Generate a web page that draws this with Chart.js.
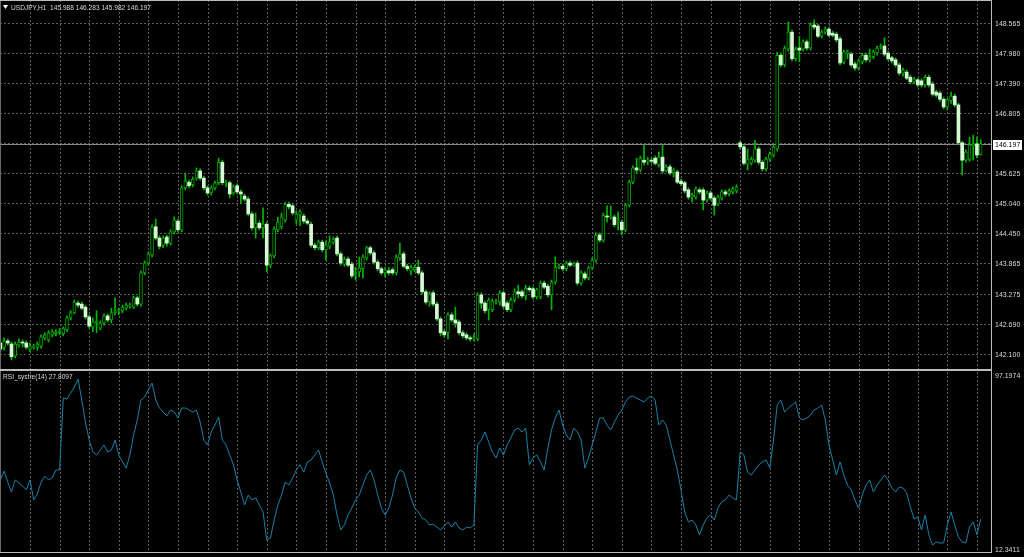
<!DOCTYPE html>
<html>
<head>
<meta charset="utf-8">
<script src="https://cdn.jsdelivr.net/npm/chart.js@4.4.1/dist/chart.umd.min.js"></script>
<style>
  html, body { margin: 0; padding: 0; background: #000; }
  body { width: 1024px; height: 557px; position: relative; overflow: hidden; }
  .pane { position: absolute; left: 0; width: 1024px; }
  #pricePane { top: 0; height: 370px; }
  #rsiPane { top: 370px; height: 184px; }
</style>
</head>
<body>
<div class="pane" id="pricePane"><canvas id="priceChart"></canvas></div>
<div class="pane" id="rsiPane"><canvas id="rsiChart"></canvas></div>
<script>
// USDJPY H1 candles (oldest first)
const symbol = 'USDJPY,H1';

const open = [
  142.31,142.23,142.35,142.29,142.06,142.27,142.33,142.31,142.19,142.23,
  142.23,142.25,142.41,142.37,142.47,142.49,142.51,142.49,142.57,142.80,
  142.90,143.09,143.07,143.01,142.82,142.62,142.70,142.60,142.70,142.84,
  142.76,142.90,142.94,142.94,142.99,143.03,143.01,143.19,143.07,143.68,
  143.87,144.03,144.58,144.36,144.22,144.38,144.26,144.48,144.69,144.52,
  145.34,145.45,145.40,145.53,145.67,145.53,145.34,145.24,145.34,145.44,
  145.84,145.44,145.44,145.24,145.38,145.26,145.18,145.12,144.83,144.56,
  144.65,144.56,144.63,143.83,144.01,144.52,144.58,144.71,145.02,144.99,
  144.71,144.81,144.79,144.69,144.63,144.22,144.17,144.28,144.13,144.20,
  144.28,144.36,144.05,143.85,143.95,143.85,143.64,143.70,143.76,143.97,
  144.17,144.07,143.89,143.76,143.68,143.72,143.74,143.68,143.97,144.05,
  143.81,143.72,143.74,143.79,143.68,143.31,143.11,143.29,143.07,142.78,
  142.53,142.51,142.86,142.76,142.72,142.51,142.47,142.41,142.39,142.39,
  143.25,143.09,142.96,142.96,143.11,143.11,143.29,143.09,142.96,143.15,
  143.31,143.31,143.23,143.38,143.37,143.21,143.21,143.48,143.42,143.25,
  143.50,143.79,143.81,143.76,143.87,143.83,143.87,143.48,143.66,143.58,
  143.78,143.93,144.42,144.32,144.79,144.77,144.77,144.67,144.67,144.52,
  145.00,145.45,145.73,145.69,145.88,145.86,145.88,145.92,145.79,145.94,
  145.67,145.75,145.63,145.65,145.47,145.44,145.30,145.16,145.16,145.30,
  145.30,145.10,145.24,145.14,145.02,145.14,145.26,145.22,145.26,145.28,
  146.22,146.14,145.80,145.82,145.88,146.10,145.84,145.71,145.90,145.98,
  146.10,147.93,147.74,148.05,148.38,147.86,148.07,148.05,148.19,148.07,
  148.52,148.50,148.30,148.38,148.44,148.36,148.34,148.25,147.80,147.97,
  147.95,147.76,147.68,147.80,147.93,147.84,147.90,147.97,148.09,148.11,
  147.97,147.88,147.84,147.74,147.58,147.60,147.50,147.41,147.45,147.43,
  147.35,147.50,147.37,147.21,147.19,147.07,146.92,147.04,147.13,146.96,
  146.22,145.88,145.90,146.16,146.20,145.988
];

const high = [
  142.39,142.41,142.39,142.33,142.33,142.39,142.37,142.35,142.31,142.29,
  142.33,142.47,142.51,142.55,142.57,142.57,142.59,142.62,142.84,142.94,
  143.15,143.13,143.11,143.05,142.86,142.80,142.94,142.74,142.88,142.88,
  142.99,143.19,142.99,143.05,143.09,143.09,143.23,143.23,143.72,143.91,
  144.09,144.62,144.73,144.40,144.40,144.42,144.52,144.77,144.73,145.38,
  145.63,145.49,145.55,145.73,145.71,145.57,145.38,145.38,145.47,145.92,
  145.88,145.49,145.47,145.40,145.42,145.30,145.22,145.16,144.87,144.85,
  144.69,144.95,144.67,144.05,144.58,144.77,144.85,145.06,145.06,145.02,
  144.89,144.91,144.83,144.73,144.67,144.26,144.32,144.32,144.30,144.40,
  144.38,144.40,144.09,143.99,143.99,143.89,143.79,143.99,144.03,144.20,
  144.20,144.11,143.93,143.79,143.79,143.78,143.78,144.03,144.26,144.09,
  143.85,143.83,143.83,143.93,143.72,143.35,143.31,143.33,143.11,142.82,
  142.57,142.90,142.90,143.01,142.76,142.55,142.51,142.45,142.49,143.29,
  143.29,143.13,143.19,143.17,143.17,143.33,143.33,143.13,143.19,143.37,
  143.44,143.35,143.44,143.42,143.40,143.38,143.52,143.52,143.46,143.54,
  143.99,143.85,143.85,143.91,143.91,143.89,143.91,143.72,143.70,143.81,
  143.97,144.46,144.46,144.85,144.99,144.99,144.81,144.87,144.71,145.04,
  145.49,145.77,145.92,145.96,146.18,145.94,145.92,145.96,146.04,146.18,
  145.79,145.79,145.73,145.69,145.51,145.47,145.34,145.24,145.36,145.34,
  145.34,145.28,145.28,145.18,145.20,145.30,145.30,145.32,145.36,145.40,
  146.25,146.18,146.10,145.94,146.27,146.14,145.88,145.94,146.04,146.18,
  147.99,147.97,148.11,148.58,148.42,148.09,148.30,148.23,148.23,148.56,
  148.62,148.54,148.42,148.48,148.48,148.40,148.38,148.29,148.03,148.03,
  147.99,147.80,147.86,147.97,147.97,148.05,148.03,148.11,148.15,148.27,
  148.01,147.91,147.88,147.78,147.68,147.64,147.54,147.50,147.48,147.47,
  147.54,147.54,147.41,147.25,147.23,147.11,147.09,147.21,147.17,146.99,
  146.25,146.08,146.33,146.37,146.33,146.283
];

const low = [
  142.14,142.17,142.27,141.98,142.02,142.23,142.23,142.19,142.14,142.19,
  142.17,142.21,142.37,142.33,142.43,142.45,142.47,142.45,142.53,142.76,
  142.88,143.01,142.96,142.78,142.60,142.53,142.51,142.57,142.66,142.72,
  142.70,142.86,142.86,142.90,142.96,142.99,142.98,143.03,143.03,143.64,
  143.83,143.99,144.32,144.15,144.17,144.20,144.22,144.44,144.48,144.48,
  145.30,145.34,145.36,145.49,145.49,145.30,145.20,145.20,145.30,145.40,
  145.40,145.36,145.14,145.20,145.22,145.04,145.08,144.79,144.52,144.36,
  144.52,144.36,143.70,143.78,143.97,144.48,144.54,144.67,144.93,144.81,
  144.63,144.60,144.65,144.62,144.18,144.13,144.13,144.09,143.93,144.15,
  144.24,144.01,143.83,143.81,143.80,143.58,143.54,143.60,143.58,143.93,
  144.03,143.85,143.72,143.64,143.60,143.64,143.64,143.64,143.93,143.78,
  143.72,143.64,143.70,143.64,143.27,143.07,143.03,143.03,142.74,142.45,
  142.43,142.39,142.72,142.62,142.47,142.41,142.37,142.35,142.35,142.35,
  142.99,142.90,142.76,142.92,143.07,143.05,142.99,142.92,142.92,143.11,
  143.19,143.19,143.15,143.31,143.17,143.17,143.17,143.37,143.21,142.96,
  143.46,143.76,143.72,143.72,143.80,143.81,143.44,143.44,143.54,143.54,
  143.74,143.89,144.28,144.28,144.67,144.73,144.58,144.52,144.42,144.48,
  144.97,145.42,145.63,145.65,145.79,145.79,145.82,145.79,145.75,145.63,
  145.65,145.59,145.55,145.42,145.38,145.24,145.12,145.06,145.12,145.22,
  144.91,145.06,145.10,144.81,144.99,145.10,145.18,145.18,145.22,145.24,
  146.10,145.79,145.69,145.79,145.84,145.80,145.67,145.67,145.86,145.94,
  146.06,147.70,147.70,148.01,147.82,147.82,147.80,148.01,148.03,148.03,
  148.44,148.27,148.27,148.34,148.29,148.29,148.19,147.74,147.76,147.86,
  147.70,147.64,147.64,147.76,147.80,147.80,147.86,147.93,148.05,147.91,
  147.82,147.78,147.70,147.54,147.52,147.45,147.37,147.37,147.31,147.31,
  147.31,147.31,147.13,147.11,147.03,146.88,146.86,146.99,146.92,146.18,
  145.59,145.84,145.86,145.88,145.93,145.982
];

const close = [
  142.19,142.35,142.31,142.04,142.29,142.33,142.31,142.23,142.25,142.25,
  142.29,142.43,142.47,142.51,142.53,142.53,142.55,142.59,142.80,142.90,
  143.11,143.05,142.99,142.82,142.64,142.72,142.74,142.70,142.84,142.76,
  142.90,142.94,142.96,143.01,143.05,143.05,143.19,143.07,143.68,143.87,
  144.05,144.58,144.36,144.20,144.36,144.26,144.48,144.71,144.52,145.34,
  145.47,145.38,145.51,145.67,145.53,145.34,145.24,145.34,145.44,145.84,
  145.44,145.45,145.22,145.36,145.26,145.22,145.12,144.83,144.56,144.65,
  144.56,144.63,143.83,144.01,144.54,144.67,144.77,145.02,144.97,144.85,
  144.83,144.87,144.69,144.65,144.22,144.17,144.28,144.13,144.22,144.28,
  144.34,144.05,143.87,143.95,143.83,143.62,143.68,143.78,143.99,144.17,
  144.07,143.89,143.76,143.68,143.74,143.68,143.68,143.99,144.05,143.81,
  143.76,143.79,143.79,143.68,143.31,143.11,143.27,143.07,142.78,142.51,
  142.47,142.86,142.76,142.70,142.51,142.45,142.41,142.39,142.41,143.25,
  143.09,142.94,143.15,143.13,143.13,143.29,143.03,142.96,143.15,143.31,
  143.27,143.23,143.38,143.35,143.21,143.35,143.48,143.40,143.25,143.50,
  143.79,143.81,143.76,143.87,143.83,143.85,143.48,143.68,143.58,143.78,
  143.93,144.42,144.32,144.81,144.77,144.79,144.62,144.69,144.52,145.00,
  145.45,145.73,145.69,145.92,145.84,145.88,145.86,145.82,145.94,145.67,
  145.75,145.63,145.69,145.45,145.42,145.28,145.16,145.20,145.32,145.26,
  145.10,145.24,145.14,145.00,145.16,145.26,145.22,145.28,145.32,145.36,
  146.14,145.82,145.90,145.90,146.10,145.84,145.71,145.90,146.00,146.14,
  147.93,147.74,148.07,148.38,147.86,148.05,148.03,148.19,148.07,148.52,
  148.48,148.30,148.38,148.44,148.32,148.32,148.23,147.78,147.99,147.99,
  147.74,147.68,147.82,147.93,147.84,147.90,147.99,148.07,148.11,147.95,
  147.86,147.82,147.74,147.58,147.64,147.48,147.41,147.47,147.35,147.35,
  147.50,147.35,147.17,147.15,147.07,146.92,147.06,147.13,146.96,146.22,
  145.88,146.04,146.18,146.20,145.98,146.197
];

// RSI_systre(14), one value per candle
const rsiName = 'RSI_systre(14)';
const rsi = [
  46.3,50.5,45.3,40.6,46.3,44.9,43.5,41.6,46.3,36.9,
  39.7,45.3,48.1,46.3,47.3,51.0,51.0,85.0,84.5,87.3,
  90.1,93.9,84.0,73.6,65.1,59.5,58.1,60.4,62.8,59.5,
  60.4,65.1,58.1,54.8,51.9,58.1,67.5,74.6,84.0,85.4,
  88.7,92.0,84.0,80.2,78.3,76.5,79.3,78.3,75.5,80.2,
  80.2,79.3,78.3,79.3,73.6,65.1,62.8,68.9,72.2,76.0,
  65.1,62.8,58.1,53.4,46.3,40.6,34.5,39.2,36.9,37.8,
  34.5,31.2,18.0,18.9,27.4,34.5,39.2,45.3,43.9,47.3,
  51.0,53.4,50.0,54.8,55.7,58.1,60.4,54.8,49.6,44.9,
  39.2,29.8,22.7,25.1,29.8,33.1,36.9,39.2,43.9,48.6,
  51.0,46.3,39.2,33.1,29.8,33.1,39.2,47.3,51.0,50.0,
  43.9,37.8,33.1,31.2,28.4,27.4,25.1,25.5,24.1,22.7,
  24.6,26.5,24.1,26.5,23.7,22.7,24.1,23.7,25.1,62.8,
  65.1,68.9,64.2,59.5,56.7,61.4,58.1,62.8,66.1,69.9,
  70.8,68.9,70.8,53.4,56.7,58.1,54.8,51.0,61.4,69.9,
  75.5,79.3,72.2,67.5,65.1,70.8,68.9,65.1,51.9,56.7,
  62.8,68.9,75.5,75.5,72.2,69.9,73.6,76.9,79.3,83.1,
  85.4,85.9,84.9,84.0,83.1,84.9,85.9,84.0,72.2,74.6,
  72.2,65.1,58.1,51.0,41.6,31.2,26.5,27.4,25.1,20.4,
  25.1,28.4,29.8,27.4,33.1,36.0,36.9,39.2,37.8,36.9,
  59.5,58.1,50.0,48.6,51.0,53.4,54.8,55.7,52.0,65.1,
  81.6,84.0,78.3,80.2,81.6,83.1,75.5,74.6,75.5,76.9,
  79.3,80.2,81.6,74.6,62.8,55.7,48.6,54.8,48.6,43.9,
  41.6,36.9,33.1,39.2,43.9,46.3,40.6,43.9,46.3,48.6,
  46.3,42.5,40.6,43.0,42.5,40.2,33.6,27.9,28.8,22.7,
  29.8,20.4,15.6,17.1,16.6,16.6,25.1,31.2,25.1,19.4,
  17.1,16.6,24.1,26.5,20.4,27.8097
];

// axis labels shown on the right
const priceTicks = [148.565, 147.980, 147.390, 146.805, 146.215, 145.625, 145.040, 144.450, 143.865, 143.275, 142.690, 142.100];
const priceRange = [141.783, 149.008];
const rsiRange = [12.3411, 97.1974];

const bars = close.map((_, i) => i);

const FONT = '7px "Liberation Sans", Arial, sans-serif';
const HEAD_FONT = '6.6px "Liberation Sans", Arial, sans-serif';
const TEXT = '#d8d8d8';
const GRID = '#5e5e5e';
const FRAME = '#bcbcbc';
const WICK = '#00b800';
const BULL_EDGE = '#00a000';
const BEAR_FILL = '#d4fbd4';

function drawVGrid(chart) {
  const { ctx, chartArea: a, scales: { x } } = chart;
  ctx.save();
  ctx.strokeStyle = GRID;
  ctx.lineWidth = 1;
  ctx.setLineDash([2, 2]);
  for (let i = 8; i < bars.length; i += 8) {
    const px = Math.round(x.getPixelForValue(i)) + 0.5;
    ctx.beginPath();
    ctx.moveTo(px, a.top);
    ctx.lineTo(px, a.bottom);
    ctx.stroke();
  }
  ctx.restore();
}

function drawFrame(ctx, a, h) {
  ctx.fillStyle = FRAME;
  ctx.fillRect(Math.round(a.right), 0, 1, h);
  ctx.fillStyle = '#6a6a6a';
  ctx.fillRect(0, 0, 1, h);
}

const pricePlugin = {
  id: 'priceDecor',
  beforeDatasetsDraw(chart) {
    const { ctx, chartArea: a, scales: { y } } = chart;
    drawVGrid(chart);
    ctx.save();
    ctx.strokeStyle = GRID;
    ctx.setLineDash([2, 2]);
    priceTicks.forEach(t => {
      const py = Math.round(y.getPixelForValue(t)) + 0.5;
      ctx.beginPath();
      ctx.moveTo(a.left, py);
      ctx.lineTo(a.right, py);
      ctx.stroke();
    });
    // bid line
    ctx.setLineDash([]);
    ctx.strokeStyle = '#8a8a8a';
    const by = Math.round(y.getPixelForValue(close[close.length - 1])) + 0.5;
    ctx.beginPath();
    ctx.moveTo(a.left, by);
    ctx.lineTo(a.right, by);
    ctx.stroke();
    ctx.restore();
  },
  afterDraw(chart) {
    const { ctx, chartArea: a, scales: { y } } = chart;
    ctx.save();
    drawFrame(ctx, a, chart.height);
    ctx.fillStyle = FRAME;
    ctx.fillRect(0, 0, Math.round(a.right), 1);
    ctx.fillRect(0, chart.height - 1, Math.round(a.right) + 1, 1);

    ctx.font = FONT;
    ctx.textBaseline = 'middle';
    ctx.textAlign = 'left';
    ctx.fillStyle = TEXT;
    priceTicks.forEach(t => {
      ctx.fillText(t.toFixed(3), a.right + 4, Math.round(y.getPixelForValue(t)) + 1);
    });

    // last price box
    const last = close[close.length - 1];
    const by = Math.round(y.getPixelForValue(last));
    ctx.fillStyle = '#ffffff';
    ctx.fillRect(a.right + 2, by - 4, 29, 10);
    ctx.fillStyle = '#000000';
    ctx.fillText(last.toFixed(3), a.right + 4, by + 1);

    // header
    ctx.fillStyle = '#ffffff';
    ctx.beginPath();
    ctx.moveTo(3, 5);
    ctx.lineTo(8, 5);
    ctx.lineTo(5.5, 9);
    ctx.closePath();
    ctx.fill();
    const n = close.length - 1;
    ctx.font = HEAD_FONT;
    ctx.fillStyle = TEXT;
    ctx.fillText(symbol + '  ' + [open[n], high[n], low[n], close[n]].map(v => v.toFixed(3)).join(' '), 11, 8);
    ctx.restore();
  }
};

const rsiPlugin = {
  id: 'rsiDecor',
  beforeDatasetsDraw(chart) {
    drawVGrid(chart);
  },
  afterDraw(chart) {
    const { ctx, chartArea: a } = chart;
    ctx.save();
    drawFrame(ctx, a, chart.height - 1);
    ctx.fillStyle = FRAME;
    ctx.fillRect(0, 0, Math.round(a.right) + 1, 1);
    ctx.fillRect(0, Math.round(a.bottom), Math.round(a.right) + 1, 1);
    ctx.font = FONT;
    ctx.textBaseline = 'middle';
    ctx.textAlign = 'left';
    ctx.fillStyle = TEXT;
    ctx.fillText(rsiRange[1].toFixed(4), a.right + 4, 6);
    ctx.fillText(rsiRange[0].toFixed(4), a.right + 4, a.bottom - 2);
    ctx.font = HEAD_FONT;
    ctx.fillText(rsiName + ' ' + rsi[rsi.length - 1].toFixed(4), 3, 7);
    ctx.restore();
  }
};

const xScale = { type: 'linear', display: false, offset: false, min: -0.108, max: 267.8 };

new Chart(document.getElementById('priceChart'), {
  type: 'bar',
  data: {
    datasets: [
      {
        label: 'body',
        data: bars.map(i => ({ x: i, y: [open[i], close[i]] })),
        backgroundColor: bars.map(i => close[i] >= open[i] ? '#000000' : BEAR_FILL),
        borderColor: bars.map(i => close[i] >= open[i] ? BULL_EDGE : BEAR_FILL),
        borderWidth: bars.map(i => close[i] >= open[i] ? 1 : 0),
        borderSkipped: false,
        barThickness: 3,
        stack: 'candle',
        order: 0
      },
      {
        label: 'wick',
        data: bars.map(i => ({ x: i, y: [low[i], high[i]] })),
        backgroundColor: WICK,
        borderWidth: 0,
        barThickness: 1,
        stack: 'candle',
        order: 1
      }
    ]
  },
  options: {
    responsive: true,
    maintainAspectRatio: false,
    animation: false,
    layout: { padding: { top: 0, right: 33, bottom: 0, left: 0 } },
    plugins: { legend: { display: false }, tooltip: { enabled: false } },
    scales: {
      x: xScale,
      y: { display: false, stacked: false, min: priceRange[0], max: priceRange[1] }
    }
  },
  plugins: [pricePlugin]
});

new Chart(document.getElementById('rsiChart'), {
  type: 'line',
  data: {
    datasets: [{
      label: rsiName,
      data: bars.map(i => ({ x: i, y: rsi[i] })),
      borderColor: '#1b80a6',
      borderWidth: 1,
      pointRadius: 0,
      tension: 0
    }]
  },
  options: {
    responsive: true,
    maintainAspectRatio: false,
    animation: false,
    layout: { padding: { top: 2, right: 33, bottom: 2, left: 0 } },
    plugins: { legend: { display: false }, tooltip: { enabled: false } },
    scales: {
      x: { ...xScale },
      y: { display: false, min: rsiRange[0], max: rsiRange[1] }
    }
  },
  plugins: [rsiPlugin]
});
</script>
</body>
</html>
